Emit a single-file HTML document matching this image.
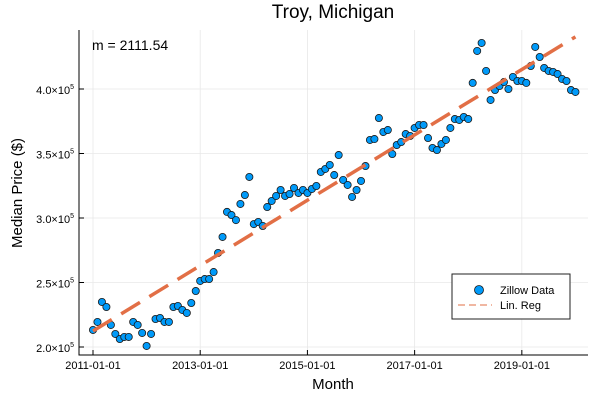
<!DOCTYPE html>
<html><head><meta charset="utf-8"><style>
html,body{margin:0;padding:0;background:#fff;}
svg{display:block;font-family:"Liberation Sans",sans-serif;}
</style></head><body>
<svg id="chart" width="600" height="400" viewBox="0 0 600 400"></svg>
<script>
const prices = [213.2,219.4,234.9,231.0,217.1,210.1,206.2,207.8,207.8,219.4,
217.1,210.9,200.8,210.1,221.7,222.5,219.4,219.4,231.0,231.8,
228.7,226.4,234.1,243.4,251.2,252.7,252.7,258.1,272.9,285.3,
304.7,302.3,298.4,310.9,317.8,331.8,295.3,296.9,293.8,308.5,
313.2,317.1,321.7,317.1,318.6,323.3,319.4,321.7,319.4,322.5,
324.8,335.7,338.0,341.1,333.3,348.8,329.5,325.6,316.3,321.7,
328.7,340.3,360.5,361.2,377.5,366.7,368.2,349.6,356.6,358.9,
365.1,363.6,369.8,372.1,372.1,362.0,354.3,352.7,357.4,360.5,
369.8,376.7,376.0,378.3,376.7,404.7,429.5,435.7,414.0,391.5,
399.2,402.3,405.4,400.0,409.3,406.2,406.2,404.7,417.8,432.6,
424.8,416.3,414.0,413.2,411.6,407.8,406.2,399.2,397.7];
const regStart = 212.4;
const slope = 2.11154;
const yTicks = [200,250,300,350,400];
const yTickLabels = ["2.0","2.5","3.0","3.5","4.0"];
const xTickMonths = [0,24,48,72,96];
const xTickLabels = ["2011-01-01","2013-01-01","2015-01-01","2017-01-01","2019-01-01"];

const NS="http://www.w3.org/2000/svg";
const svg=document.getElementById('chart');
function X(i){return 93+i*4.467;}
function Y(v){return 347-(v-200)*1.29;}
function mk(tag,attrs,parent){const e=document.createElementNS(NS,tag);for(const k in attrs)e.setAttribute(k,attrs[k]);(parent||svg).appendChild(e);return e;}

// grid
yTicks.forEach((v,i)=>{
  const g=mk('line',{x1:79,x2:588,y1:Y(v),y2:Y(v),stroke:'#e8e8e8','stroke-width':0.8});
  
  
  mk('line',{x1:79,x2:84,y1:Y(v),y2:Y(v),stroke:'#000','stroke-width':1});
  const t=mk('text',{x:74,y:Y(v)+5,'text-anchor':'end','font-size':11});
  
  
  t.innerHTML=yTickLabels[i]+'×10<tspan font-size="7" dy="-5">5</tspan>';
});
xTickMonths.forEach((m,i)=>{
  const g=mk('line',{x1:X(m),x2:X(m),y1:30,y2:355,stroke:'#e8e8e8','stroke-width':0.8});
  
  
  mk('line',{x1:X(m),x2:X(m),y1:355,y2:350,stroke:'#000','stroke-width':1});
  const t=mk('text',{x:X(m),y:369,'text-anchor':'middle','font-size':11});
  
  
  t.textContent=xTickLabels[i];
});
// axes
const ax=mk('path',{d:'M79,30 V355 H588',fill:'none',stroke:'#000','stroke-width':1});



// points
prices.forEach((v,i)=>{
  const c=mk('circle',{cx:X(i),cy:Y(v),r:3.6,fill:'#009af9',stroke:'#1a1a1a','stroke-width':0.8});
  
  
});
// regression
const n=prices.length-1;
const reg=mk('line',{x1:X(0),y1:Y(regStart),x2:X(n),y2:Y(regStart+slope*n),stroke:'#e26f46','stroke-width':3.5,'stroke-dasharray':'22,11'});



// texts
const title=mk('text',{x:333,y:18,'text-anchor':'middle','font-size':19});


title.textContent='Troy, Michigan';
const ann=mk('text',{x:92,y:50,'font-size':14});


ann.textContent='m = 2111.54';
const xt=mk('text',{x:333,y:389,'text-anchor':'middle','font-size':15});


xt.textContent='Month';
const yt=mk('text',{x:22,y:193,'text-anchor':'middle','font-size':15,transform:'rotate(-90 22 193)'});


yt.textContent='Median Price ($)';

// legend
const lg=mk('g',{});


mk('rect',{x:452,y:274,width:118,height:45,fill:'#fff',stroke:'#222','stroke-width':1},lg);
const lc=mk('circle',{cx:479,cy:290,r:4.5,fill:'#009af9',stroke:'#1a1a1a','stroke-width':0.8},lg);


const l1=mk('text',{x:500,y:294,'font-size':11},lg);


l1.textContent='Zillow Data';
const ll=mk('line',{x1:458,x2:492,y1:305,y2:305,stroke:'#e26f46','stroke-width':1,'stroke-dasharray':'7,4'},lg);


const l2=mk('text',{x:500,y:309,'font-size':11},lg);


l2.textContent='Lin. Reg';
</script>
</body></html>
